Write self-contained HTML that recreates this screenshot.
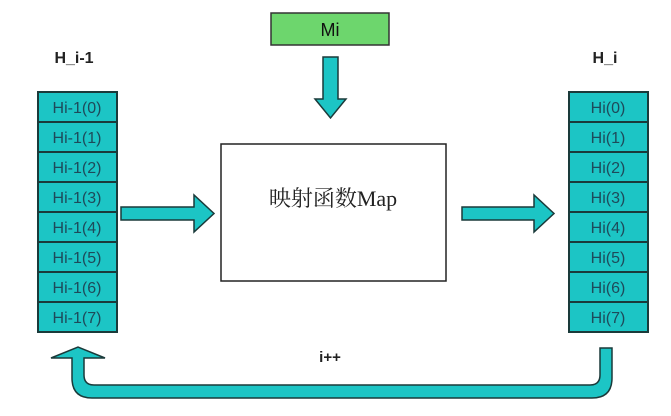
<!DOCTYPE html>
<html><head><meta charset="utf-8"><style>
body{margin:0;background:#fff;width:671px;height:411px;overflow:hidden}
</style></head><body>
<svg width="671" height="411" xmlns="http://www.w3.org/2000/svg" font-family="Liberation Sans, sans-serif">
<g stroke="#1a3a3a" stroke-width="2" fill="#1cc5c5">
<rect x="38" y="92" width="79" height="30"/><rect x="38" y="122" width="79" height="30"/><rect x="38" y="152" width="79" height="30"/><rect x="38" y="182" width="79" height="30"/><rect x="38" y="212" width="79" height="30"/><rect x="38" y="242" width="79" height="30"/><rect x="38" y="272" width="79" height="30"/><rect x="38" y="302" width="79" height="30"/>
<rect x="569" y="92" width="79" height="30"/><rect x="569" y="122" width="79" height="30"/><rect x="569" y="152" width="79" height="30"/><rect x="569" y="182" width="79" height="30"/><rect x="569" y="212" width="79" height="30"/><rect x="569" y="242" width="79" height="30"/><rect x="569" y="272" width="79" height="30"/><rect x="569" y="302" width="79" height="30"/>
</g>
<g fill="#1e4a5a" font-size="16" text-anchor="middle">
<text x="77" y="113">Hi-1(0)</text><text x="77" y="143">Hi-1(1)</text><text x="77" y="173">Hi-1(2)</text><text x="77" y="203">Hi-1(3)</text><text x="77" y="233">Hi-1(4)</text><text x="77" y="263">Hi-1(5)</text><text x="77" y="293">Hi-1(6)</text><text x="77" y="323">Hi-1(7)</text>
<text x="608" y="113">Hi(0)</text><text x="608" y="143">Hi(1)</text><text x="608" y="173">Hi(2)</text><text x="608" y="203">Hi(3)</text><text x="608" y="233">Hi(4)</text><text x="608" y="263">Hi(5)</text><text x="608" y="293">Hi(6)</text><text x="608" y="323">Hi(7)</text>
</g>
<g font-weight="bold" font-size="16" fill="#222" text-anchor="middle">
<text x="74" y="63">H_i-1</text><text x="605" y="63">H_i</text><text x="330" y="362" font-size="15">i++</text>
</g>
<rect x="271" y="13" width="118" height="32" fill="#6dd66d" stroke="#333" stroke-width="1.5"/>
<text x="330" y="36" font-size="18" text-anchor="middle" fill="#111">Mi</text>
<rect x="221" y="144" width="225" height="137" fill="#fff" stroke="#222" stroke-width="1.5"/>
<text x="333" y="206" font-size="22" text-anchor="middle" fill="#222" font-family="Liberation Serif, Noto Serif CJK SC, serif">映射函数Map</text>
<g fill="#1cc5c5" stroke="#1a3a3a" stroke-width="1.5">
<polygon points="323,57 338,57 338,99 346,99 330.5,118 315,99 323,99"/>
<polygon points="121,207 194,207 194,195 214,213.5 194,232 194,220 121,220"/>
<polygon points="462,207 534,207 534,195 554,213.5 534,232 534,220 462,220"/>
<path d="M600,348 H612 V378 Q612,398 592,398 H92 Q72,398 72,378 V358 H51 L78,347 L105,358 H84 V375 Q84,385 94,385 H590 Q600,385 600,375 Z"/>
</g>
</svg>
</body></html>
